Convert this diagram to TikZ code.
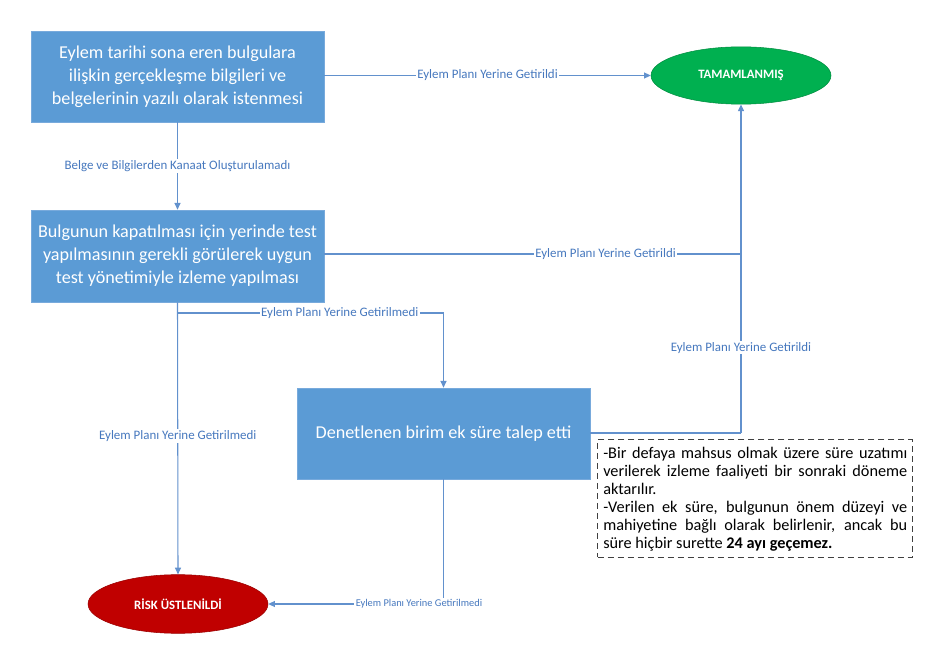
\documentclass[tikz,border=0pt]{standalone}
\usepackage{fontspec}
\setmainfont{Carlito}
\usetikzlibrary{arrows.meta,shapes.geometric}
\definecolor{boxblue}{RGB}{91,155,213}
\definecolor{boxedge}{RGB}{120,170,220}
\definecolor{linkblue}{RGB}{98,145,205}
\definecolor{lblblue}{RGB}{70,120,190}
\definecolor{okgreen}{RGB}{0,176,80}
\definecolor{riskred}{RGB}{192,0,0}
\begin{document}
\begin{tikzpicture}[x=0.75pt,y=-0.75pt,
  stepbox/.style={rectangle,fill=boxblue,draw=boxedge,line width=0.5pt,
    minimum width=219.75pt,minimum height=68.25pt,text=white,align=center,
    font=\fontsize{13.6}{17.2}\selectfont,inner sep=0pt},
  endnode/.style={ellipse,minimum width=135pt,minimum height=43pt,text=white,
    font=\bfseries\fontsize{9.6}{11}\selectfont,inner sep=0pt},
  link/.style={draw=linkblue,line width=0.8pt},
  arr/.style={link,-{Triangle[length=5pt,width=4.5pt]}},
  lbl/.style={fill=white,text=lblblue,inner sep=1pt,font=\fontsize{9.7}{11}\selectfont},
  lblsmall/.style={lbl,font=\fontsize{7.8}{9}\selectfont},
  notebox/.style={rectangle,draw=black!75,dashed,dash pattern=on 4.5pt off 3pt,line width=0.6pt,
    minimum width=236pt,minimum height=88pt,inner sep=0pt}
]
\useasboundingbox (0,0) rectangle (936,659);

\node[stepbox] (b1) at (177.5,76.5) {Eylem tarihi sona eren bulgulara\\ilişkin gerçekleşme bilgileri ve\\belgelerinin yazılı olarak istenmesi};
\node[stepbox,minimum height=69pt] (b2) at (177.5,256) {Bulgunun kapatılması için yerinde test\\yapılmasının gerekli görülerek uygun\\test yönetimiyle izleme yapılması};
\node[stepbox] (b3) at (443.5,433.5) {Denetlenen birim ek süre talep etti};

\node[endnode,fill=okgreen,draw=okgreen!80!black,line width=0.4pt] (g) at (741,75.5) {TAMAMLANMIŞ};
\node[endnode,fill=riskred,draw=riskred!80!black,line width=0.4pt,minimum height=44pt] (r) at (178,604) {RİSK ÜSTLENİLDİ};

\node[notebox] (nb) at (755,498.5) {};
\node[anchor=north west,inner sep=0pt,font=\fontsize{12.2}{13.6}\selectfont] (nt) at (603,446.5)
 {\parbox{228pt}{-Bir defaya mahsus olmak üzere süre uzatımı\linebreak verilerek izleme faaliyeti bir sonraki döneme\linebreak aktarılır.\par
 -Verilen ek süre, bulgunun önem düzeyi ve\linebreak mahiyetine bağlı olarak belirlenir, ancak bu\linebreak süre hiçbir surette \textbf{24 ayı geçemez.}}};

% b1 -> g
\draw[arr] (b1.east |- g.west) -- node[lbl,pos=0.5]{Eylem Planı Yerine Getirildi} (g.west);
% b1 -> b2
\draw[arr] (b1.south) -- node[lbl]{Belge ve Bilgilerden Kanaat Oluşturulamadı} (b2.north);
% b2 -> g
\coordinate (c2) at (741,254);
\draw[link] (b2.east |- c2) -- node[lbl,pos=0.675]{Eylem Planı Yerine Getirildi} (c2);
% b3 -> g
\coordinate (c3) at (741,433);
\draw[link] (b3.east |- c3) -- (c3);
\draw[arr] (c3) -- node[lbl,pos=0.26]{Eylem Planı Yerine Getirildi} (g.south);
% b2 -> b3
\coordinate (j1) at (177.5,313);
\coordinate (j2) at (443.5,313);
\draw[link] (j1) -- node[lbl,pos=0.61]{Eylem Planı Yerine Getirilmedi} (j2);
\draw[arr] (j2) -- (b3.north);
% b2 -> r
\draw[arr] (b2.south) -- node[lbl,pos=0.49]{Eylem Planı Yerine Getirilmedi} (r.north);
% b3 -> r
\coordinate (c4) at (443.5,604);
\draw[link] (b3.south) -- (c4);
\draw[arr] (c4) -- node[lblsmall,pos=0.14]{Eylem Planı Yerine Getirilmedi} (r.east);
\end{tikzpicture}
\end{document}
